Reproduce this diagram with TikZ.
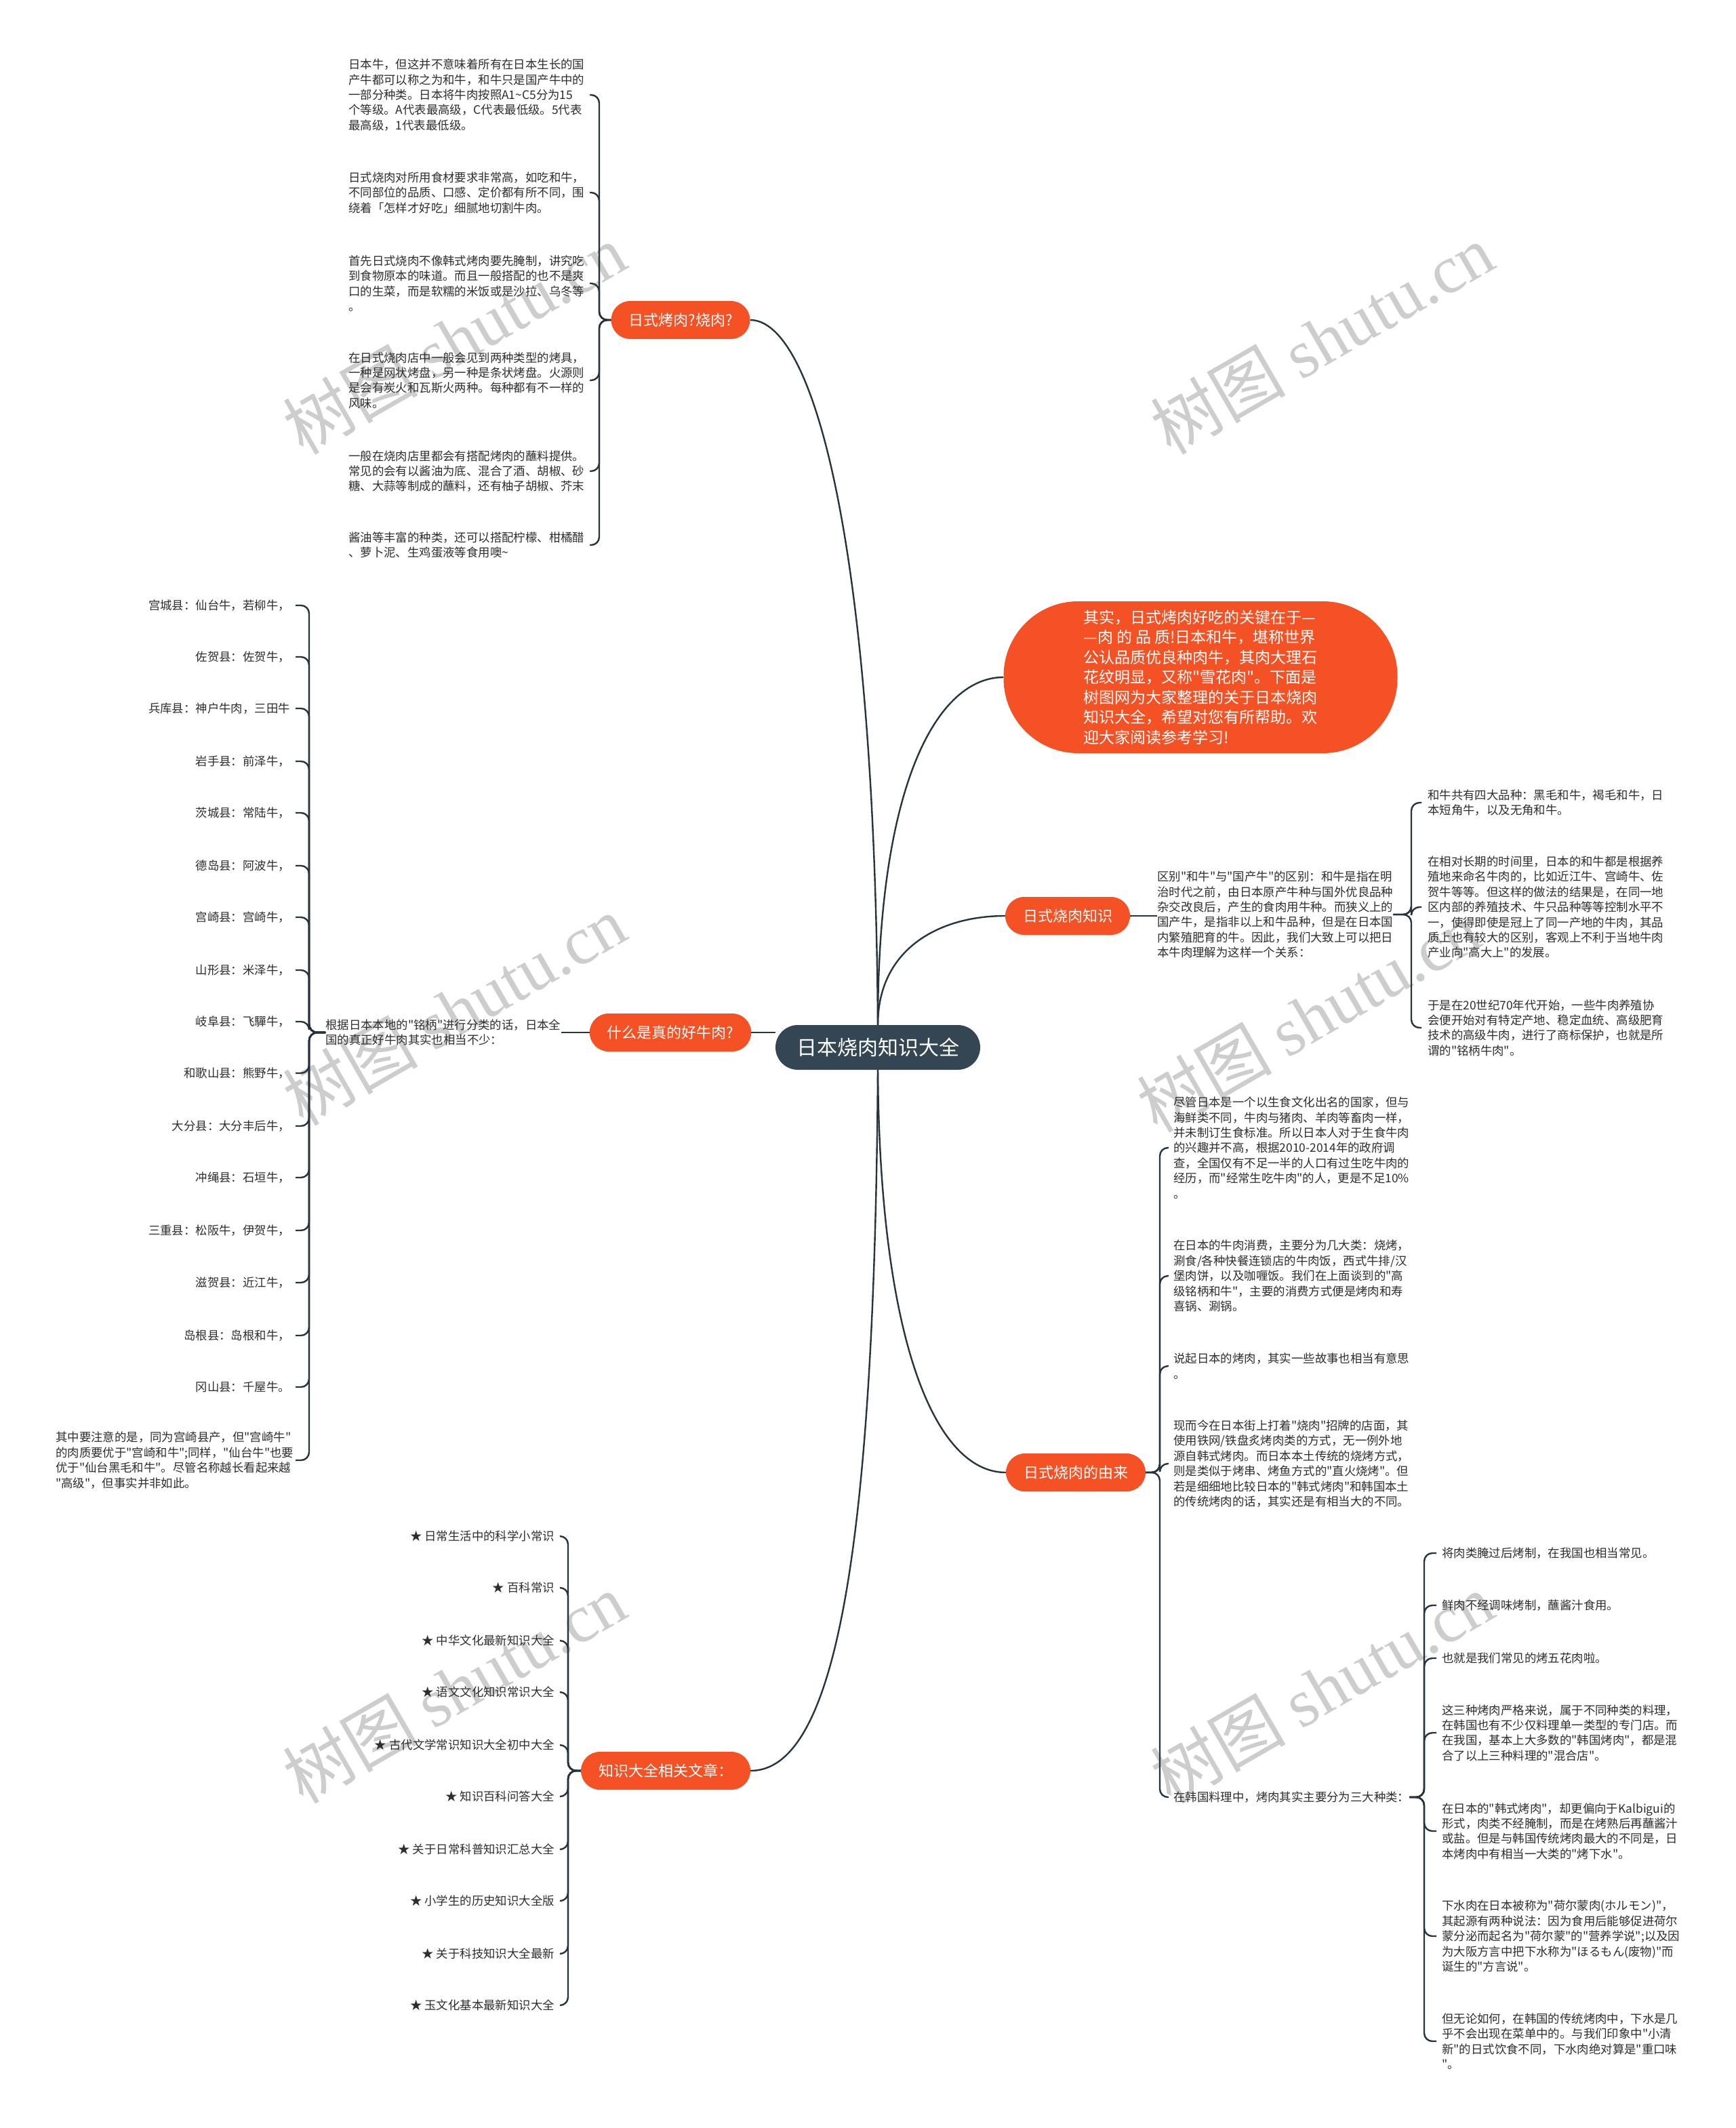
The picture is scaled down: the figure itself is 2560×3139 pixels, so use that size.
\documentclass[tikz,border=0pt]{standalone}
\usepackage{fontspec}
\newfontfamily\cjk{Noto Sans CJK SC}
\newfontfamily\wmserif{Liberation Serif}
\definecolor{orng}{RGB}{244,81,37}
\definecolor{darknode}{RGB}{52,70,84}
\definecolor{linec}{RGB}{38,52,64}
\definecolor{txt}{RGB}{45,45,45}
\definecolor{wmc}{RGB}{205,205,205}
\begin{document}
\begin{tikzpicture}[x=1pt,y=-1pt,
  conn/.style={draw=linec,line width=2.4pt,rounded corners=12pt},
  curve/.style={draw=linec,line width=2.4pt},
  branch/.style={fill=orng,text=white,rounded corners=28pt,minimum height=56pt,inner xsep=26pt,inner ysep=0pt,font=\cjk\fontsize{22}{26}\selectfont},
  leaf/.style={text=txt,inner sep=0pt,align=left,font=\cjk\fontsize{17.4}{22.4}\selectfont},
  leafR/.style={text=txt,inner sep=0pt,align=right,anchor=east,font=\cjk\fontsize{17.4}{22.4}\selectfont},
  wmark/.style={text=wmc,rotate=30,inner sep=0pt,font=\cjk\fontsize{100}{100}\selectfont}]
\useasboundingbox (0,0) rectangle (2560,3139);
\fill[white] (0,0) rectangle (2560,3139);

% watermarks
\node[wmark] (wm1) at (670,500) {树图 {\wmserif shutu.cn}};
\node[wmark] (wm2) at (1950,500) {树图 {\wmserif shutu.cn}};
\node[wmark] (wm3) at (670,1490) {树图 {\wmserif shutu.cn}};
\node[wmark] (wm4) at (1930,1500) {树图 {\wmserif shutu.cn}};
\node[wmark] (wm5) at (670,2490) {树图 {\wmserif shutu.cn}};
\node[wmark] (wm6) at (1950,2490) {树图 {\wmserif shutu.cn}};

% spine coordinates
\coordinate (sT) at (884,0);  \coordinate (hT) at (870,0);
\coordinate (sL) at (456,0);  \coordinate (hL) at (436,0);
\coordinate (sK) at (2082,0); \coordinate (hK) at (2097,0);
\coordinate (sO) at (1711,0); \coordinate (hO) at (1724,0);
\coordinate (sG) at (2101,0); \coordinate (hG) at (2119,0);
\coordinate (sR) at (838,0);  \coordinate (hR) at (826,0);

% main nodes
\node[fill=darknode,text=white,rounded corners=33pt,minimum width=302pt,minimum height=66pt,inner sep=0pt,font=\cjk\fontsize{30}{34}\selectfont] (root) at (1295,1545) {日本烧肉知识大全};
\node[branch] (b1) at (1004,472) {日式烤肉?烧肉?};
\node[branch] (b3) at (989,1523) {什么是真的好牛肉?};
\node[branch] (bK) at (1575,1351) {日式烧肉知识};
\node[branch] (bO) at (1587,2172) {日式烧肉的由来};
\node[branch] (b5) at (982,2612) {知识大全相关文章：};
\node[fill=orng,text=white,rounded corners=110pt,minimum width=581pt,minimum height=224pt,inner sep=0pt,align=left,font=\cjk\fontsize{23}{29.5}\selectfont] (intro) at (1771,999) {其实，日式烤肉好吃的关键在于—\\—肉 的 品 质!日本和牛，堪称世界\\公认品质优良种肉牛，其肉大理石\\花纹明显，又称"雪花肉"。下面是\\树图网为大家整理的关于日本烧肉\\知识大全，希望对您有所帮助。欢\\迎大家阅读参考学习!};

% top-left leaves
\node[leaf,anchor=west] (l1) at (514,140) {日本牛，但这并不意味着所有在日本生长的国\\产牛都可以称之为和牛，和牛只是国产牛中的\\一部分种类。日本将牛肉按照A1\textasciitilde C5分为15\\个等级。A代表最高级，C代表最低级。5代表\\最高级，1代表最低级。};
\node[leaf,anchor=west] (l2) at (514,284) {日式烧肉对所用食材要求非常高，如吃和牛，\\不同部位的品质、口感、定价都有所不同，围\\绕着「怎样才好吃」细腻地切割牛肉。};
\node[leaf,anchor=west] (l3) at (514,418) {首先日式烧肉不像韩式烤肉要先腌制，讲究吃\\到食物原本的味道。而且一般搭配的也不是爽\\口的生菜，而是软糯的米饭或是沙拉、乌冬等\\。};
\node[leaf,anchor=west] (l4) at (514,561) {在日式烧肉店中一般会见到两种类型的烤具，\\一种是网状烤盘，另一种是条状烤盘。火源则\\是会有炭火和瓦斯火两种。每种都有不一样的\\风味。};
\node[leaf,anchor=west] (l5) at (514,695) {一般在烧肉店里都会有搭配烤肉的蘸料提供。\\常见的会有以酱油为底、混合了酒、胡椒、砂\\糖、大蒜等制成的蘸料，还有柚子胡椒、芥末};
\node[leaf,anchor=west] (l6) at (514,804) {酱油等丰富的种类，还可以搭配柠檬、柑橘醋\\、萝卜泥、生鸡蛋液等食用噢\textasciitilde};

% good beef
\node[leaf,anchor=west] (w0) at (480,1523) {根据日本本地的"铭柄"进行分类的话，日本全\\国的真正好牛肉其实也相当不少：};
\node[leafR] (i1) at (428,893) {宫城县：仙台牛，若柳牛，};
\node[leafR] (i2) at (428,969) {佐贺县：佐贺牛，};
\node[leafR] (i3) at (428,1045) {兵库县：神户牛肉，三田牛};
\node[leafR] (i4) at (428,1123) {岩手县：前泽牛，};
\node[leafR] (i5) at (428,1199) {茨城县：常陆牛，};
\node[leafR] (i6) at (428,1277) {德岛县：阿波牛，};
\node[leafR] (i7) at (428,1353) {宫崎县：宫崎牛，};
\node[leafR] (i8) at (428,1431) {山形县：米泽牛，};
\node[leafR] (i9) at (428,1507) {岐阜县：飞驒牛，};
\node[leafR] (i10) at (428,1583) {和歌山县：熊野牛，};
\node[leafR] (i11) at (428,1661) {大分县：大分丰后牛，};
\node[leafR] (i12) at (428,1737) {冲绳县：石垣牛，};
\node[leafR] (i13) at (428,1815) {三重县：松阪牛，伊贺牛，};
\node[leafR] (i14) at (428,1892) {滋贺县：近江牛，};
\node[leafR] (i15) at (428,1970) {岛根县：岛根和牛，};
\node[leafR] (i16) at (428,2046) {冈山县：千屋牛。};
\node[leaf,anchor=west] (i17) at (82,2154) {其中要注意的是，同为宫崎县产，但"宫崎牛"\\的肉质要优于"宫崎和牛";同样，"仙台牛"也要\\优于"仙台黑毛和牛"。尽管名称越长看起来越\\"高级"，但事实并非如此。};

% knowledge
\node[leaf,anchor=west] (k0) at (1707,1349) {区别"和牛"与"国产牛"的区别：和牛是指在明\\治时代之前，由日本原产牛种与国外优良品种\\杂交改良后，产生的食肉用牛种。而狭义上的\\国产牛，是指非以上和牛品种，但是在日本国\\内繁殖肥育的牛。因此，我们大致上可以把日\\本牛肉理解为这样一个关系：};
\node[leaf,anchor=west] (kA) at (2106,1184) {和牛共有四大品种：黑毛和牛，褐毛和牛，日\\本短角牛，以及无角和牛。};
\node[leaf,anchor=west] (kB) at (2106,1338) {在相对长期的时间里，日本的和牛都是根据养\\殖地来命名牛肉的，比如近江牛、宫崎牛、佐\\贺牛等等。但这样的做法的结果是，在同一地\\区内部的养殖技术、牛只品种等等控制水平不\\一，使得即使是冠上了同一产地的牛肉，其品\\质上也有较大的区别，客观上不利于当地牛肉\\产业向"高大上"的发展。};
\node[leaf,anchor=west] (kC) at (2106,1516) {于是在20世纪70年代开始，一些牛肉养殖协\\会便开始对有特定产地、稳定血统、高级肥育\\技术的高级牛肉，进行了商标保护，也就是所\\谓的"铭柄牛肉"。};

% origin
\node[leaf,anchor=west] (o1) at (1731,1693) {尽管日本是一个以生食文化出名的国家，但与\\海鲜类不同，牛肉与猪肉、羊肉等畜肉一样，\\并未制订生食标准。所以日本人对于生食牛肉\\的兴趣并不高，根据2010-2014年的政府调\\查，全国仅有不足一半的人口有过生吃牛肉的\\经历，而"经常生吃牛肉"的人，更是不足10\%\\。};
\node[leaf,anchor=west] (o2) at (1731,1882) {在日本的牛肉消费，主要分为几大类：烧烤，\\涮食/各种快餐连锁店的牛肉饭，西式牛排/汉\\堡肉饼，以及咖喱饭。我们在上面谈到的"高\\级铭柄和牛"，主要的消费方式便是烤肉和寿\\喜锅、涮锅。};
\node[leaf,anchor=west] (o3) at (1731,2015) {说起日本的烤肉，其实一些故事也相当有意思\\。};
\node[leaf,anchor=west] (o4) at (1731,2159) {现而今在日本街上打着"烧肉"招牌的店面，其\\使用铁网/铁盘炙烤肉类的方式，无一例外地\\源自韩式烤肉。而日本本土传统的烧烤方式，\\则是类似于烤串、烤鱼方式的"直火烧烤"。但\\若是细细地比较日本的"韩式烤肉"和韩国本土\\的传统烤肉的话，其实还是有相当大的不同。};
\node[leaf,anchor=west] (o5) at (1731,2651) {在韩国料理中，烤肉其实主要分为三大种类：};

\node[leaf,anchor=west] (g1) at (2127,2291) {将肉类腌过后烤制，在我国也相当常见。};
\node[leaf,anchor=west] (g2) at (2127,2368) {鲜肉不经调味烤制，蘸酱汁食用。};
\node[leaf,anchor=west] (g3) at (2127,2446) {也就是我们常见的烤五花肉啦。};
\node[leaf,anchor=west] (g4) at (2127,2556) {这三种烤肉严格来说，属于不同种类的料理，\\在韩国也有不少仅料理单一类型的专门店。而\\在我国，基本上大多数的"韩国烤肉"，都是混\\合了以上三种料理的"混合店"。};
\node[leaf,anchor=west] (g5) at (2127,2701) {在日本的"韩式烤肉"，却更偏向于Kalbigui的\\形式，肉类不经腌制，而是在烤熟后再蘸酱汁\\或盐。但是与韩国传统烤肉最大的不同是，日\\本烤肉中有相当一大类的"烤下水"。};
\node[leaf,anchor=west] (g6) at (2127,2856) {下水肉在日本被称为"荷尔蒙肉(ホルモン)"，\\其起源有两种说法：因为食用后能够促进荷尔\\蒙分泌而起名为"荷尔蒙"的"营养学说";以及因\\为大阪方言中把下水称为"ほるもん(废物)"而\\诞生的"方言说"。};
\node[leaf,anchor=west] (g7) at (2127,3011) {但无论如何，在韩国的传统烤肉中，下水是几\\乎不会出现在菜单中的。与我们印象中"小清\\新"的日式饮食不同，下水肉绝对算是"重口味\\"。};

% related articles
\node[leafR] (r1) at (818,2266) {★ 日常生活中的科学小常识};
\node[leafR] (r2) at (818,2342) {★ 百科常识};
\node[leafR] (r3) at (818,2420) {★ 中华文化最新知识大全};
\node[leafR] (r4) at (818,2496) {★ 语文文化知识常识大全};
\node[leafR] (r5) at (818,2574) {★ 古代文学常识知识大全初中大全};
\node[leafR] (r6) at (818,2650) {★ 知识百科问答大全};
\node[leafR] (r7) at (818,2728) {★ 关于日常科普知识汇总大全};
\node[leafR] (r8) at (818,2804) {★ 小学生的历史知识大全版};
\node[leafR] (r9) at (818,2882) {★ 关于科技知识大全最新};
\node[leafR] (r10) at (818,2958) {★ 玉文化基本最新知识大全};

% centre connectors
\draw[curve] (b1.east) .. controls (1200,472) and (1290,800) .. (root.north);
\draw[curve] (root.north) .. controls (1295,1150) and (1385,999) .. (intro.west);
\draw[curve] (root.north) .. controls (1295,1400) and (1385,1351) .. (bK.west);
\draw[curve] (root.south) .. controls (1298,1980) and (1380,2172) .. (bO.west);
\draw[curve] (root.south) .. controls (1290,2300) and (1230,2612) .. (b5.east);
\draw[curve] (b3.east) -- (b3.east -| root.west);

% top-left group
\foreach \n in {l1,l2,l3,l4,l5,l6}
  \draw[conn] (b1.west) -| (sT |- \n.west) -- (\n.west -| hT);

% good beef group
\draw[curve] (b3.west) -- (b3.west -| w0.east);
\foreach \n in {i1,i2,i3,i4,i5,i6,i7,i8,i9,i10,i11,i12,i13,i14,i15,i16}
  \draw[conn] (w0.west) -| (sL |- \n.east) -- (\n.east -| hL);
\draw[conn] (w0.west) -| (sL |- i17.west) -- (i17.west -| hL);

% knowledge group
\draw[curve] (bK.east) -- (bK.east -| k0.west);
\foreach \n in {kA,kB,kC}
  \draw[conn] (k0.east) -| (sK |- \n.west) -- (\n.west -| hK);

% origin group
\foreach \n in {o1,o2,o3,o4,o5}
  \draw[conn] (bO.east) -| (sO |- \n.west) -- (\n.west -| hO);
\foreach \n in {g1,g2,g3,g4,g5,g6,g7}
  \draw[conn] (o5.east) -| (sG |- \n.west) -- (\n.west -| hG);

% related group
\foreach \n in {r1,r2,r3,r4,r5,r6,r7,r8,r9,r10}
  \draw[conn] (b5.west) -| (sR |- \n.east) -- (\n.east -| hR);
\end{tikzpicture}
\end{document}
